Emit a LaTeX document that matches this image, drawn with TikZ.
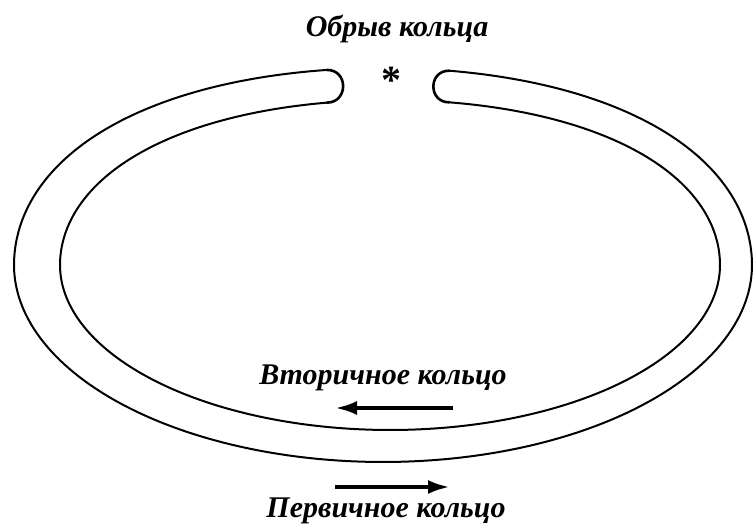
\documentclass[tikz,border=0pt]{standalone}
\usepackage{fontspec}
\setmainfont{Liberation Serif}
\usetikzlibrary{arrows.meta}
\begin{document}
\begin{tikzpicture}[x=1pt,y=1pt,
  declare function={g(\t)=(max(sin(\t),0))^2*(cos(\t))^2;},
  ring/.style={line width=2pt, line join=round, line cap=round},
  capline/.style={line width=2.6pt, line cap=round},
  lbl/.style={font=\fontsize{30}{30}\selectfont\bfseries\itshape, inner sep=0pt, anchor=base},
  flow/.style={line width=4pt, -{Latex[length=22pt,width=14pt]}}]
\fill[white] (0,0) rectangle (753,525);
\useasboundingbox (0,0) rectangle (753,525);
% outer line of the ring
\draw[ring] plot[domain=98.7:439.7, samples=300, variable=\t]
  ({383+369*cos(\t)*(1+0.08*g(\t))},{260+197*sin(\t)*(1+0.08*g(\t))});
% inner line of the ring
\draw[ring] plot[domain=101:439.7, samples=300, variable=\t]
  ({390+330*cos(\t)*(1+0.07*g(\t))},{260+165*sin(\t)*(1+0.07*g(\t))});
% ends at the break
\coordinate (OL) at ({383+369*cos(98.7)*(1+0.08*g(98.7))},{260+197*sin(98.7)*(1+0.08*g(98.7))});
\coordinate (IL) at ({390+330*cos(101)*(1+0.07*g(101))},{260+165*sin(101)*(1+0.07*g(101))});
\coordinate (OR) at ({383+369*cos(79.7)*(1+0.08*g(79.7))},{260+197*sin(79.7)*(1+0.08*g(79.7))});
\coordinate (IR) at ({390+330*cos(79.7)*(1+0.07*g(79.7))},{260+165*sin(79.7)*(1+0.07*g(79.7))});
\draw[capline] (OL) .. controls +(21.5,0) and +(21.5,0) .. (IL);
\draw[capline] (OR) .. controls +(-21,0) and +(-21,0) .. (IR);
% break mark
\node[font=\fontsize{40}{40}\selectfont\bfseries, inner sep=0pt, anchor=base] (star) at (391,431) {*};
% labels
\node[lbl] (title) at (397,488) {Обрыв кольца};
\node[lbl] (sec) at (383,140) {Вторичное кольцо};
\node[lbl] (prim) at (386,7.5) {Первичное кольцо};
% direction arrows
\coordinate (s1) at (453,117);
\coordinate (e1) at (335,117);
\draw[flow] (s1) -- (e1);
\coordinate (s2) at (335,38);
\coordinate (e2) at (450,38);
\draw[flow] (s2) -- (e2);
\end{tikzpicture}
\end{document}
